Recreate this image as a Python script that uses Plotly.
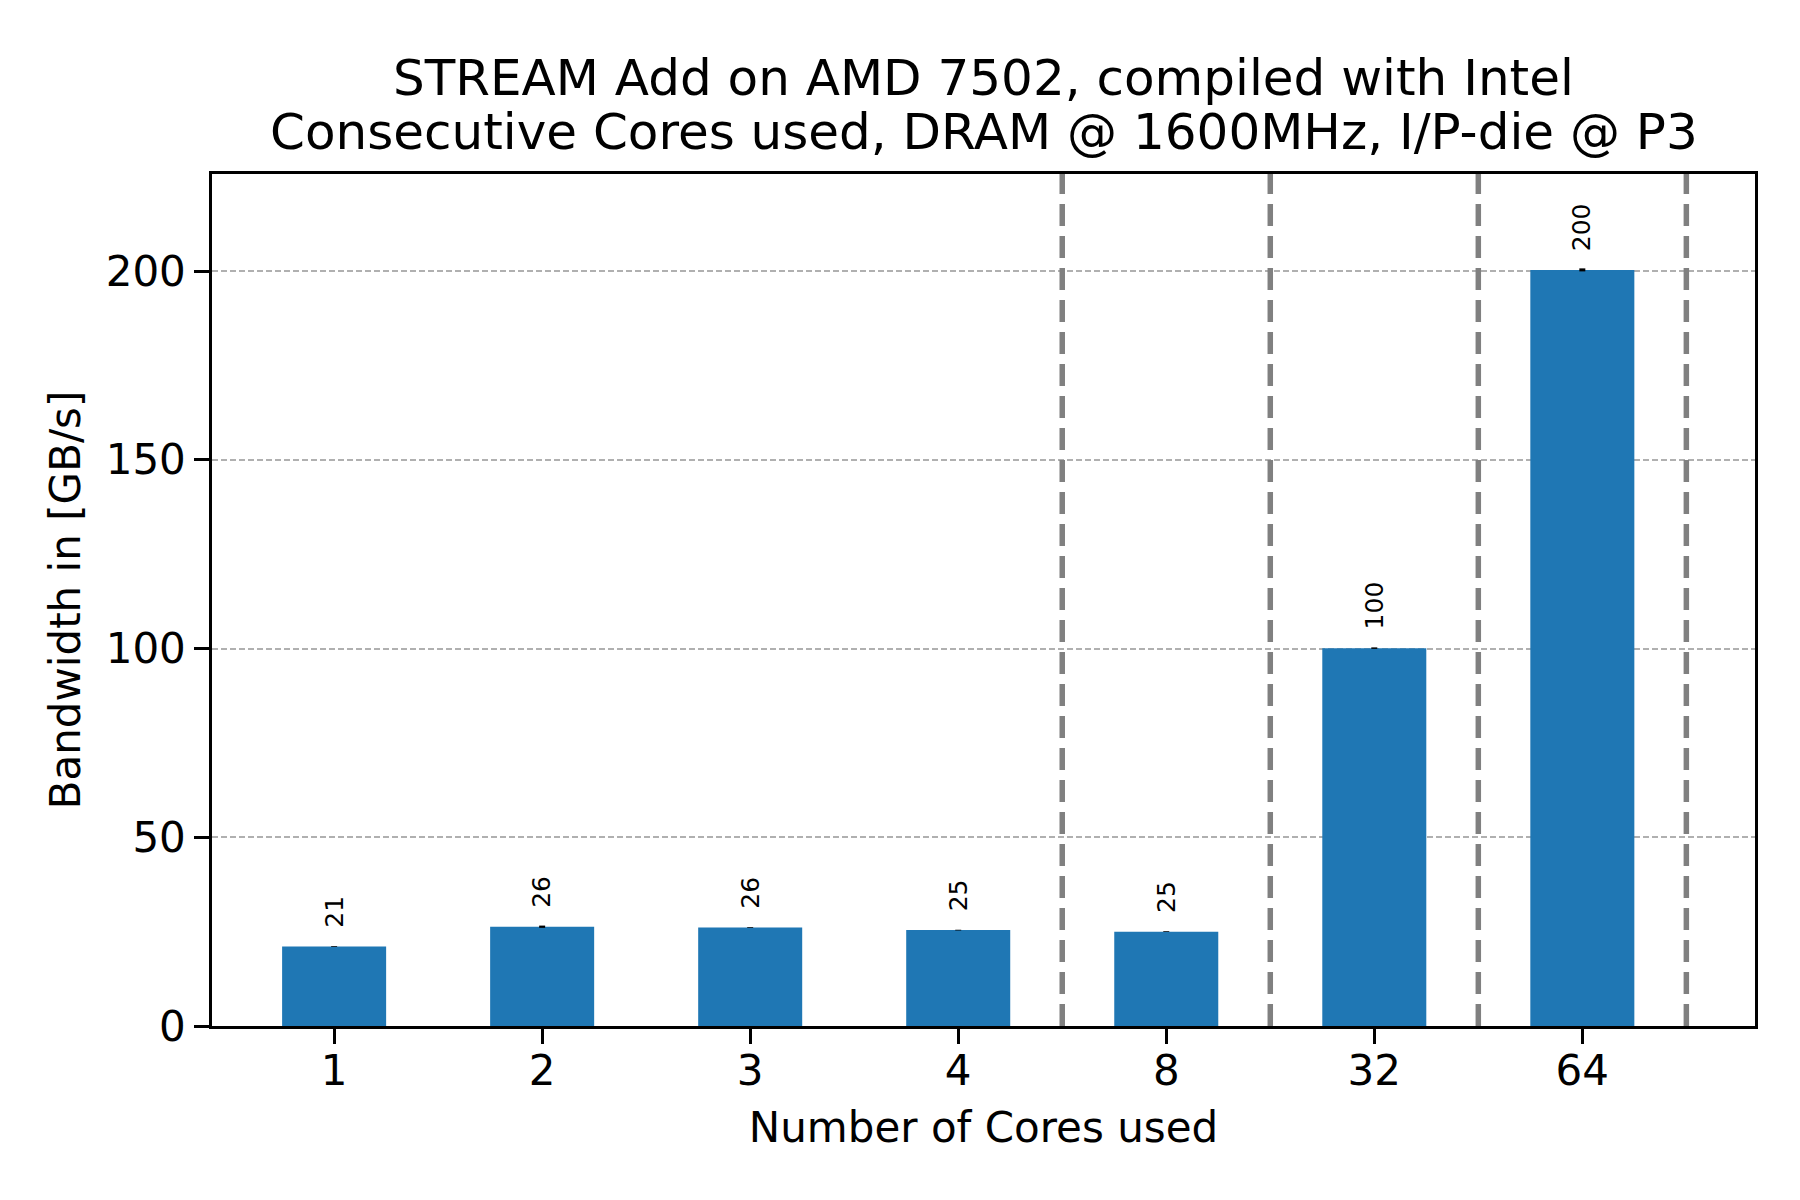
import plotly.graph_objects as go

cores = ["1", "2", "3", "4", "8", "32", "64"]
bandwidth = [21.05, 26.3, 26.1, 25.4, 25.0, 100.1, 200.3]
errors = [0.1, 0.3, 0.1, 0.1, 0.1, 0.2, 0.4]
bar_labels = [str(int(round(v))) for v in bandwidth]
y_ticks = [0, 50, 100, 150, 200]
separators = [3.5, 4.5, 5.5, 6.5]

title_lines = ["STREAM Add on AMD 7502, compiled with Intel",
               "Consecutive Cores used, DRAM @ 1600MHz, I/P-die @ P3"]

FONT = "DejaVu Sans"
H, W = 1200, 1800
l, r, t, b = 212, 45, 174, 174
ph = H - t - b


def py(pix):
    return (H - b - pix) / ph


fig = go.Figure()
fig.add_trace(go.Bar(
    x=list(range(len(cores))), y=bandwidth, width=0.5,
    marker=dict(color="#1f77b4", line=dict(width=0)),
    error_y=dict(type="data", array=errors, visible=True, color="black",
                 thickness=6, width=0),
    showlegend=False,
))

for i, (v, lab) in enumerate(zip(bandwidth, bar_labels)):
    fig.add_annotation(x=i, y=v, xref="x", yref="y", text=lab, textangle=-90,
                       showarrow=False, yanchor="bottom", xanchor="center",
                       yshift=17, font=dict(family=FONT, size=25, color="black"))

for s in separators:
    fig.add_shape(type="line", x0=s, x1=s, y0=0, y1=1, xref="x", yref="paper",
                  line=dict(color="#808080", width=5.5, dash="22px,10px"),
                  layer="above")

fig.add_annotation(text=title_lines[0], x=0.5, y=py(78), xref="paper", yref="paper",
                   yanchor="middle", showarrow=False,
                   font=dict(family=FONT, size=50, color="black"))
fig.add_annotation(text=title_lines[1], x=0.5, y=py(132), xref="paper", yref="paper",
                   yanchor="middle", showarrow=False,
                   font=dict(family=FONT, size=50, color="black"))

fig.update_layout(
    width=W, height=H,
    margin=dict(l=l, r=r, t=t, b=b),
    paper_bgcolor="white", plot_bgcolor="white",
    font=dict(family=FONT, size=42, color="black"),
)
fig.update_xaxes(
    range=[-0.587, 6.83], tickmode="array",
    tickvals=list(range(len(cores))), ticktext=cores,
    showline=True, linecolor="black", linewidth=3.3, mirror=True,
    ticks="outside", ticklen=14.6, tickwidth=3.3, tickcolor="black",
    ticklabelstandoff=-9,
    showgrid=False, zeroline=False,
    title=dict(text="Number of Cores used", font=dict(size=42), standoff=19),
)
fig.update_yaxes(
    range=[0, 225.7], tickmode="array", tickvals=y_ticks,
    showline=True, linecolor="black", linewidth=3.3, mirror=True,
    ticks="outside", ticklen=14.6, tickwidth=3.3, tickcolor="black",
    showgrid=True, gridcolor="#b0b0b0", gridwidth=1.5, griddash="6px,3px",
    zeroline=False,
    title=dict(text="Bandwidth in [GB/s]", font=dict(size=42), standoff=12),
)

fig.write_html("out.html", config={"displayModeBar": False},
               post_script="document.body.style.margin='0';")
